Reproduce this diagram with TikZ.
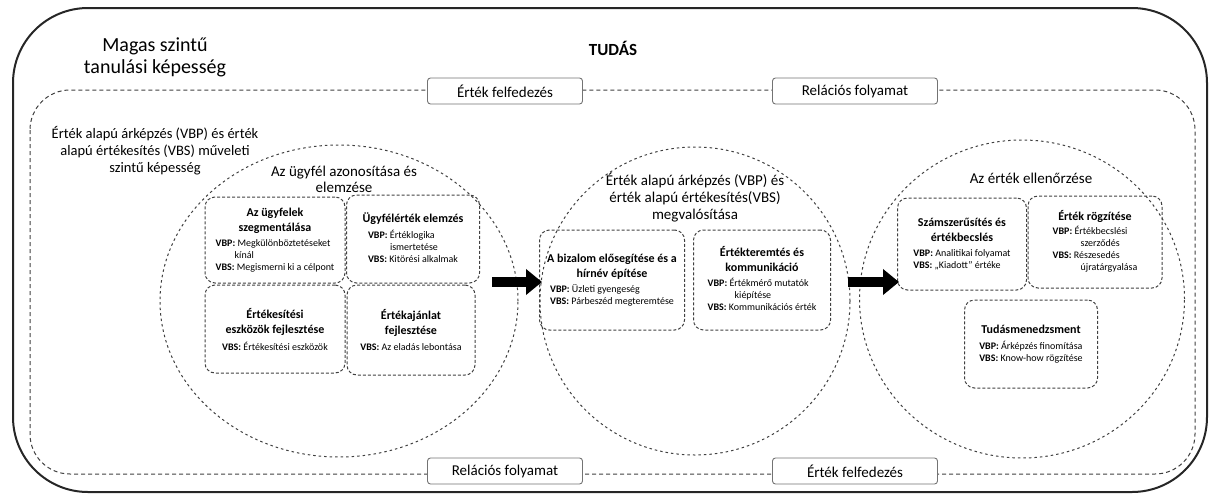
\documentclass[tikz,border=0pt]{standalone}
\usepackage{fontspec}
\setmainfont{Carlito}
\usepackage{tikz}
\usetikzlibrary{arrows.meta, positioning, shapes.geometric}
\newcommand{\Vbp}[1]{\textbf{VBP:} #1}
\newcommand{\Vbs}[1]{\textbf{VBS:} #1}
\newcommand{\Head}[1]{{\fontsize{12}{15}\selectfont\bfseries\begin{tabular}{@{}c@{}}#1\end{tabular}}}
\newcommand{\Lines}[1]{\begin{tabular}{@{}l@{}}#1\end{tabular}}
\tikzset{
    frame/.style={draw=black!85, line width=2pt, rounded corners=75pt},
    dashline/.style={draw=black!75, dash pattern=on 3pt off 2pt, line width=1pt},
    phase/.style={ellipse, dashline, dash pattern=on 2.5pt off 3pt, inner sep=0pt},
    valbox/.style={dashline, rounded corners=10pt, align=center, inner sep=3pt, font=\fontsize{10}{12}\selectfont},
    flowtag/.style={draw=black!55, fill=white, rounded corners=3pt, line width=0.9pt, minimum width=155pt, minimum height=26pt, font=\fontsize{15}{17}\selectfont},
    bigarrow/.style={line width=10pt, -{Triangle[length=16pt, width=25pt]}},
    title/.style={align=center, font=\fontsize{15}{17}\selectfont},
}
\begin{document}
\begin{tikzpicture}[x=1pt, y=-1pt]
    \useasboundingbox (0,0) rectangle (1216,499);

    % outer frames
    \draw[frame] (13,8) rectangle (1207,492);
    \draw[dashline, dash pattern=on 4pt off 3pt, rounded corners=40pt] (30,90) rectangle (1195,474);

    \node[flowtag] (disc1) at (505,91) {Érték felfedezés};
    \node[flowtag, minimum width=165pt] (rel1) at (855,91) {Relációs folyamat};
    \node[flowtag] (rel2) at (505,471) {Relációs folyamat};
    \node[flowtag, minimum width=165pt] (disc2) at (855,471) {Érték felfedezés};

    \node[align=center, font=\fontsize{20}{22}\selectfont] (cap) at (155,57) {Magas szintű\\tanulási képesség};
    \node[font=\fontsize{17}{20}\selectfont\bfseries] (tudas) at (613,48) {TUDÁS};
    \node[align=center, font=\fontsize{14.5}{17}\selectfont] (oper) at (155,151) {Érték alapú árképzés (VBP) és érték\\alapú értékesítés (VBS) műveleti\\szintű képesség};

    % phases
    \node[phase, minimum width=358pt, minimum height=312pt] (c1) at (339,301) {};
    \node[phase, minimum width=310pt, minimum height=308pt] (c2) at (695,301) {};
    \node[phase, minimum width=325pt, minimum height=318pt] (c3) at (1022,299) {};

    \node[title, font=\fontsize{15}{16}\selectfont] (t1) at (344,179) {Az ügyfél azonosítása és\\elemzése};
    \node[title] (t2) at (695,198) {Érték alapú árképzés (VBP) és\\érték alapú értékesítés(VBS)\\megvalósítása};
    \node[title] (t3) at (1031,178) {Az érték ellenőrzése};

    \node[valbox, minimum width=140pt, minimum height=86pt] (segm) at (275,240)
        {\Head{Az ügyfelek\\szegmentálása}\\[1pt]\Lines{\Vbp{Megkülönböztetéseket}\\\hspace{1.9em}kínál\\\Vbs{Megismerni ki a célpont}}};
    \node[valbox, minimum width=133pt, minimum height=88pt] (anal) at (413,239)
        {\Head{Ügyfélérték elemzés}\\[2pt]\Lines{\Vbp{Értéklogika}\\\hspace{2.2em}ismertetése\\\Vbs{Kitörési alkalmak}}};
    \node[valbox, minimum width=140pt, minimum height=88pt] (tools) at (275,329)
        {\Head{Értékesítési\\eszközök fejlesztése}\\[3pt]\Vbs{Értékesítési eszközök}};
    \node[valbox, minimum width=128pt, minimum height=90pt] (offer) at (411,330)
        {\Head{Értékajánlat\\fejlesztése}\\[3pt]\Vbs{Az eladás lebontása}};

    \node[valbox, minimum width=145pt, minimum height=100pt] (trust) at (612,280)
        {\Head{A bizalom elősegítése és a\\hírnév építése}\\[1pt]\Lines{\Vbp{Üzleti gyengeség}\\\Vbs{Párbeszéd megteremtése}}};
    \node[valbox, minimum width=137pt, minimum height=100pt] (create) at (762,280)
        {\Head{Értékteremtés és\\kommunikáció}\\[1pt]\Lines{\Vbp{Értékmérő mutatók}\\\hspace{2.7em}kiépítése\\\Vbs{Kommunikációs érték}}};

    \node[valbox, minimum width=129pt, minimum height=92pt] (quant) at (962,244)
        {\Head{Számszerűsítés és\\értékbecslés}\\[1pt]\Lines{\Vbp{Analitikai folyamat}\\\Vbs{„Kiadott” értéke}}};
    \node[valbox, minimum width=134pt, minimum height=92pt] (fix) at (1095,242)
        {\Head{Érték rögzítése}\\[1pt]\Lines{\Vbp{Értékbecslési}\\\hspace{2.8em}szerződés\\\Vbs{Részesedés}\\\hspace{2.8em}újratárgyalása}};
    \node[valbox, minimum width=133pt, minimum height=88pt] (know) at (1031,344)
        {\Head{Tudásmenedzsment}\\[2pt]\Lines{\Vbp{Árképzés finomítása}\\\Vbs{Know-how rögzítése}}};

    % flow arrows
    \coordinate (a1s) at (492,282);
    \coordinate (a1e) at (542,282);
    \coordinate (a2s) at (848,282);
    \coordinate (a2e) at (899,282);
    \draw[bigarrow] (a1s) -- (a1e);
    \draw[bigarrow] (a2s) -- (a2e);
\end{tikzpicture}
\end{document}
